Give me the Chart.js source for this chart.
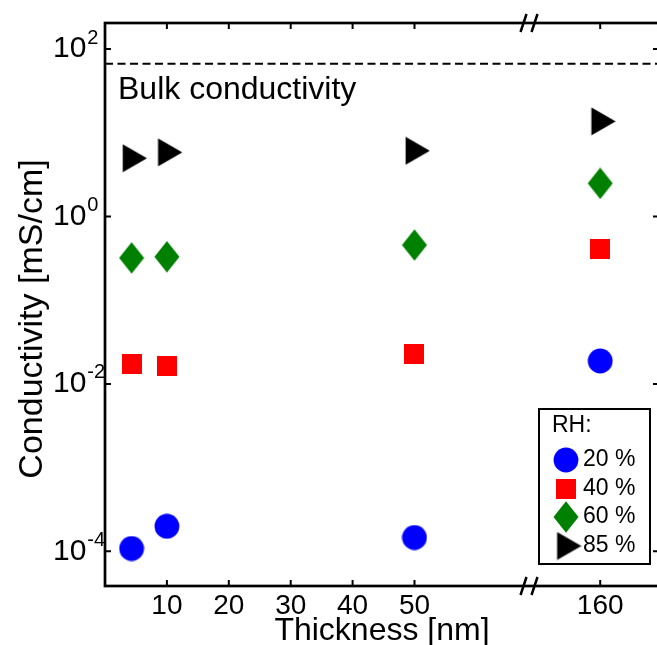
<!DOCTYPE html>
<html>
<head>
<meta charset="utf-8">
<script src="https://cdn.jsdelivr.net/npm/chart.js@4.4.0/dist/chart.umd.min.js"></script>
<style>
  html, body { margin: 0; padding: 0; background: #fff; overflow: hidden; }
  #wrap { width: 662px; height: 645px; }
</style>
</head>
<body>
<div id="wrap"><canvas id="chart" width="662" height="645"></canvas></div>
<script>
// film thickness in nm
const thickness = [4.3, 10, 50, 160];

// conductivity in mS/cm for each relative humidity
const rh20 = [1.08e-4, 1.99e-4, 1.46e-4, 0.0188];
const rh40 = [0.0175, 0.0164, 0.0225, 0.405];
const rh60 = [0.32, 0.33, 0.456, 2.49];
const rh85 = [4.97, 5.84, 6.1, 13.7];

const bulkConductivity = 66.7;

const xTickLabels = [10, 20, 30, 40, 50, 160];
const yTickValues = [1e-4, 1e-2, 1, 1e2];
const yTickExponents = ["-4", "-2", "0", "2"];

const legendLabels = ["20 %", "40 %", "60 %", "85 %"];

// broken x axis: everything past the break is shifted left by 80 nm
const breakAt = 68.5;
const breakShift = 80;
const xMax = 89.5;

const font = '"Liberation Sans", Arial, sans-serif';

const axisPos = (nm) => (nm > breakAt ? nm - breakShift : nm);

const makeMarker = (w, h, draw) => {
  const c = document.createElement("canvas");
  c.width = w;
  c.height = h;
  draw(c.getContext("2d"));
  return c;
};

const circleMarker = makeMarker(26, 26, (g) => {
  g.fillStyle = "#0000ff";
  g.beginPath();
  g.arc(13, 13, 12.4, 0, 2 * Math.PI);
  g.fill();
});
const squareMarker = makeMarker(20, 20, (g) => {
  g.fillStyle = "#ff0000";
  g.fillRect(0, 0, 20, 20);
});
const diamondMarker = makeMarker(26, 32, (g) => {
  g.fillStyle = "#008000";
  g.beginPath();
  g.moveTo(13, 0.2);
  g.lineTo(25.5, 16);
  g.lineTo(13, 31.8);
  g.lineTo(0.5, 16);
  g.closePath();
  g.fill();
});
const triangleMarker = makeMarker(31, 29, (g) => {
  g.fillStyle = "#000000";
  g.beginPath();
  g.moveTo(6.6, 0.4);
  g.lineTo(30.9, 14.5);
  g.lineTo(6.6, 28.6);
  g.closePath();
  g.fill();
});

const markers = [circleMarker, squareMarker, diamondMarker, triangleMarker];

const series = (values, marker) => ({
  type: "scatter",
  data: thickness.map((t, i) => ({ x: axisPos(t), y: values[i] })),
  pointStyle: marker,
  pointRadius: 12,
  showLine: false,
});

const framePlugin = {
  id: "frame",
  afterDraw(chart) {
    const ctx = chart.ctx;
    const area = chart.chartArea;
    const xs = chart.scales.x;
    const ys = chart.scales.y;
    ctx.save();
    ctx.strokeStyle = "#000";
    ctx.fillStyle = "#000";
    ctx.lineWidth = 2.7;
    ctx.strokeRect(area.left, area.top, area.right - area.left, area.bottom - area.top);

    // inward ticks
    ctx.lineWidth = 2;
    ctx.beginPath();
    xTickLabels.forEach((v) => {
      const px = xs.getPixelForValue(axisPos(v));
      ctx.moveTo(px, area.bottom);
      ctx.lineTo(px, area.bottom - 6);
      ctx.moveTo(px, area.top);
      ctx.lineTo(px, area.top + 6);
    });
    yTickValues.forEach((v) => {
      const py = ys.getPixelForValue(v);
      ctx.moveTo(area.left, py);
      ctx.lineTo(area.left + 6, py);
      ctx.moveTo(area.right, py);
      ctx.lineTo(area.right - 6, py);
    });
    ctx.stroke();

    // axis break marks
    const bx = xs.getPixelForValue(breakAt);
    ctx.lineWidth = 2.5;
    ctx.beginPath();
    [area.top, area.bottom].forEach((yy) => {
      [bx - 5.5, bx + 5.5].forEach((xx) => {
        ctx.moveTo(xx - 3, yy + 9);
        ctx.lineTo(xx + 3, yy - 9);
      });
    });
    ctx.stroke();

    // x tick labels
    ctx.font = "28px " + font;
    ctx.textAlign = "center";
    ctx.textBaseline = "middle";
    xTickLabels.forEach((v) => {
      ctx.fillText(String(v), xs.getPixelForValue(axisPos(v)), 606);
    });

    // y tick labels with exponents
    ctx.textAlign = "left";
    yTickValues.forEach((v, i) => {
      const py = ys.getPixelForValue(v);
      ctx.font = "30px " + font;
      ctx.fillText("10", 53, py);
      const w = ctx.measureText("10").width;
      ctx.font = "20px " + font;
      ctx.fillText(yTickExponents[i], 53 + w + 1, py - 11);
    });

    // axis titles
    ctx.textAlign = "center";
    ctx.textBaseline = "alphabetic";
    ctx.font = "32px " + font;
    ctx.fillText("Thickness [nm]", (area.left + area.right) / 2, 640);
    ctx.save();
    ctx.font = "34px " + font;
    ctx.translate(42, 319);
    ctx.rotate(-Math.PI / 2);
    ctx.fillText("Conductivity [mS/cm]", 0, 0);
    ctx.restore();

    // bulk label under the dashed line
    ctx.font = "32px " + font;
    ctx.textAlign = "left";
    ctx.fillText("Bulk conductivity", 118, ys.getPixelForValue(bulkConductivity) + 35);

    // legend
    const lx = 539, ly = 409, lw = 111, lh = 155;
    ctx.fillStyle = "#fff";
    ctx.fillRect(lx, ly, lw, lh);
    ctx.lineWidth = 2;
    ctx.strokeRect(lx, ly, lw, lh);
    ctx.fillStyle = "#000";
    ctx.font = "23px " + font;
    ctx.textBaseline = "middle";
    ctx.fillText("RH:", 552, 426);
    const rows = [460, 489, 517, 546];
    legendLabels.forEach((label, i) => {
      const m = markers[i];
      ctx.drawImage(m, 566 - m.width / 2, rows[i] - m.height / 2);
      ctx.fillText(label, 583, rows[i]);
    });
    ctx.restore();
  },
};

new Chart(document.getElementById("chart"), {
  data: {
    datasets: [
      {
        type: "line",
        data: [
          { x: 0, y: bulkConductivity },
          { x: xMax, y: bulkConductivity },
        ],
        borderColor: "#000",
        borderWidth: 2,
        borderDash: [8, 4.5],
        pointRadius: 0,
      },
      series(rh20, circleMarker),
      series(rh40, squareMarker),
      series(rh60, diamondMarker),
      series(rh85, triangleMarker),
    ],
  },
  options: {
    responsive: false,
    animation: false,
    layout: { autoPadding: false, padding: { left: 105, top: 23, right: 3, bottom: 59 } },
    plugins: { legend: { display: false }, tooltip: { enabled: false } },
    scales: {
      x: { type: "linear", min: 0, max: xMax, display: false },
      y: { type: "logarithmic", min: 3.85e-5, max: 205, display: false },
    },
  },
  plugins: [framePlugin],
});
</script>
</body>
</html>
